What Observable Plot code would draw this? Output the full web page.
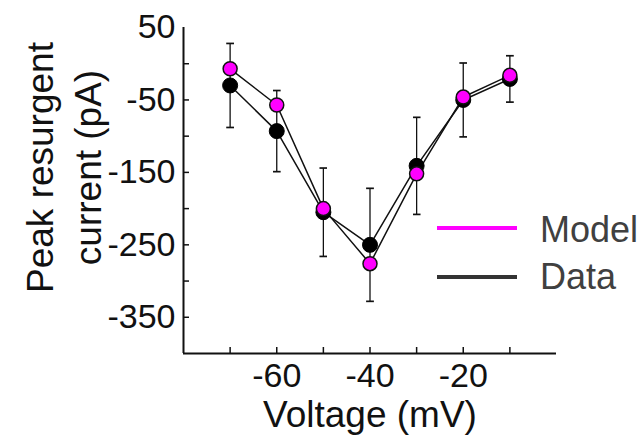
<!DOCTYPE html>
<html><head><meta charset="utf-8">
<script src="https://cdn.jsdelivr.net/npm/d3@7"></script>
<script src="https://cdn.jsdelivr.net/npm/@observablehq/plot@0.6"></script>
<style>
body{margin:0;background:#fff}
#wrap{position:relative;width:639px;height:439px;font-family:"Liberation Sans",Arial,sans-serif}
.leg{position:absolute;left:437px;width:80px;height:4px}
.legt{position:absolute;left:540px;font-size:36px;color:#404040;line-height:1}
</style>
</head><body><div id="wrap"></div>
<script>
const voltages = [-70, -60, -50, -40, -30, -20, -10];
const modelCurrent = [-7, -57, -200, -276, -152, -46, -16];
const dataCurrent = [-30, -93, -205, -250, -141, -50, -21];
const dataError = [58, 56, 61, 78, 67, 51, 32];
const xDomain = [-80, 0];
const yDomain = [-400, 50];
const xTickValues = [-70, -60, -50, -40, -30, -20, -10];
const xTickLabels = [-60, -40, -20];
const yTickValues = [0, -50, -100, -150, -200, -250, -300, -350];
const yTickLabels = [50, -50, -150, -250, -350];
const seriesNames = ["Model", "Data"];
const seriesColors = ["#ff00ff", "#333333"];

const rows = voltages.map((v, i) => ({v, model: modelCurrent[i], data: dataCurrent[i], err: dataError[i]}));

const chart = Plot.plot({
  width: 639, height: 439,
  marginLeft: 183, marginRight: 83, marginTop: 27, marginBottom: 86,
  style: {fontFamily: '"Liberation Sans", Arial, sans-serif', fontSize: "34px", color: "#111", background: "#fff"},
  x: {domain: xDomain, label: null},
  y: {domain: yDomain, label: null},
  marks: [
    Plot.axisY(yTickValues, {tickSize: 6, dx: 6, tickFormat: () => "", label: null, strokeWidth: 1.5}),
    Plot.axisY(yTickLabels, {tickSize: 0, tickPadding: 8, tickFormat: d => String(d), label: null, fontSize: 34}),
    Plot.axisX(xTickValues, {tickSize: 6, dy: -6, tickFormat: () => "", label: null, strokeWidth: 1.5}),
    Plot.axisX(xTickLabels, {tickSize: 0, tickPadding: 9, tickFormat: d => String(d), label: null, fontSize: 34}),
    Plot.ruleX([xDomain[0]], {stroke: "#111", strokeWidth: 2}),
    Plot.ruleY([yDomain[0]], {stroke: "#111", strokeWidth: 2}),
    Plot.link(rows, {x1: "v", x2: "v", y1: d => d.data - d.err, y2: d => d.data + d.err, stroke: "#111", strokeWidth: 1.3, markerStart: "tick", markerEnd: "tick"}),
    Plot.line(rows, {x: "v", y: "data", stroke: "#111", strokeWidth: 1.5}),
    Plot.line(rows, {x: "v", y: "model", stroke: "#111", strokeWidth: 1.5}),
    Plot.dot(rows, {x: "v", y: "data", r: 7.5, fill: "#000", stroke: "#000", strokeWidth: 1}),
    Plot.dot(rows, {x: "v", y: "model", r: 7, fill: "#ff00ff", stroke: "#111", strokeWidth: 1.5}),
    Plot.text(["Voltage (mV)"], {frameAnchor: "bottom", lineAnchor: "middle", dy: 62, fontSize: 37, fill: "#111"}),
    Plot.text(["Peak resurgent\ncurrent (pA)"], {frameAnchor: "left", textAnchor: "middle", rotate: -90, lineAnchor: "middle", lineHeight: 1.3, dx: -122, dy: -23, fontSize: 37, fill: "#111"})
  ]
});
const wrap = document.getElementById("wrap");
wrap.appendChild(chart);
const legTops = [228, 277];
const textTops = [212, 259];
seriesNames.forEach((name, i) => {
  const l = document.createElement("div");
  l.className = "leg";
  l.style.top = (legTops[i] - 2) + "px";
  l.style.background = seriesColors[i];
  wrap.appendChild(l);
  const t = document.createElement("div");
  t.className = "legt";
  t.style.top = textTops[i] + "px";
  t.textContent = name;
  wrap.appendChild(t);
});
</script>
</body></html>
